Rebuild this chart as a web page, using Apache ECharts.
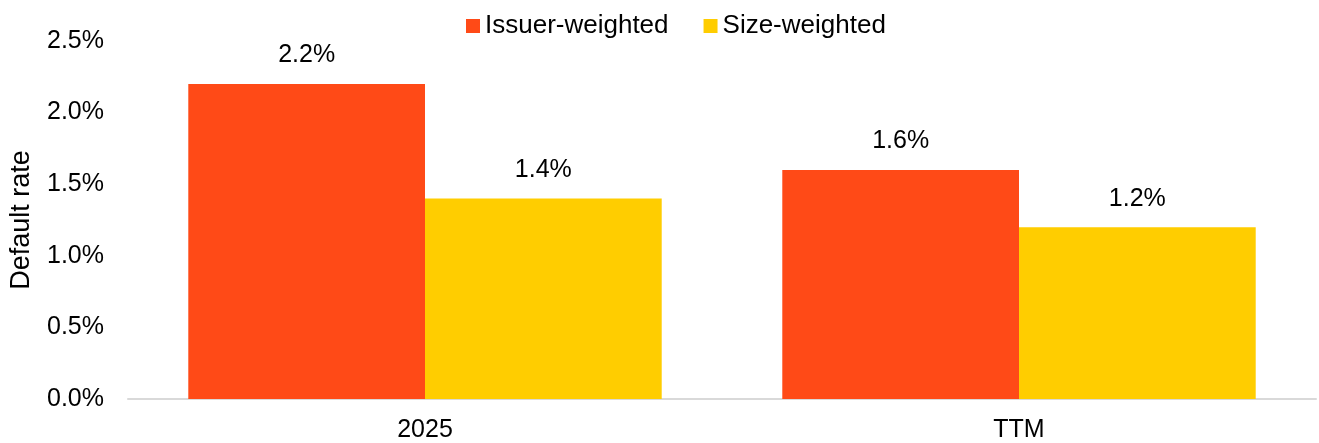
<!DOCTYPE html>
<html><head><meta charset="utf-8">
<script src="https://cdn.jsdelivr.net/npm/echarts@6/dist/echarts.min.js"></script>
<style>html,body{margin:0;padding:0;background:#fff}#c{width:1319px;height:443px}</style>
</head><body><div id="c"></div>
<script>
var categories = ['2025', 'TTM'];
var issuerWeighted = [2.2, 1.6];
var sizeWeighted = [1.4, 1.2];
var seriesNames = ['Issuer-weighted', 'Size-weighted'];
var yTicks = [0, 0.5, 1.0, 1.5, 2.0, 2.5];

var font = 'Liberation Sans, Arial, sans-serif';
var fs = 25;
var chart = echarts.init(document.getElementById('c'));
chart.setOption({
  animation: false,
  textStyle: { fontFamily: font },
  legend: {
    top: 8, left: 461, itemWidth: 14, itemHeight: 14, itemGap: 35,
    icon: 'rect',
    textStyle: { fontSize: 26, color: '#000', fontFamily: font },
    data: seriesNames
  },
  grid: { left: 127, right: 3, top: 41, bottom: 43, containLabel: false },
  xAxis: {
    type: 'category', data: categories,
    axisLine: { lineStyle: { color: '#d9d9d9', width: 2 } },
    axisTick: { show: false },
    axisLabel: { fontSize: fs, color: '#000', margin: 19, fontFamily: font }
  },
  yAxis: {
    type: 'value', min: yTicks[0], max: yTicks[yTicks.length - 1], interval: 0.5,
    name: 'Default rate', nameLocation: 'middle', nameGap: 93,
    nameTextStyle: { fontSize: 27, color: '#000', fontFamily: font },
    axisLine: { show: false }, axisTick: { show: false },
    splitLine: { show: false },
    axisLabel: { fontSize: fs, color: '#000', margin: 24, fontFamily: font,
      formatter: function (v) { return v.toFixed(1) + '%'; } }
  },
  series: [
    { name: seriesNames[0], type: 'bar', data: issuerWeighted, barGap: '0%', barCategoryGap: '20.3%',
      itemStyle: { color: '#FF4A17' },
      label: { show: true, position: 'top', distance: 16, fontSize: fs, color: '#000', fontFamily: font,
        formatter: function (p) { return p.value.toFixed(1) + '%'; } } },
    { name: seriesNames[1], type: 'bar', data: sizeWeighted, barGap: '0%', barCategoryGap: '20.3%',
      itemStyle: { color: '#FFCD00' },
      label: { show: true, position: 'top', distance: 16, fontSize: fs, color: '#000', fontFamily: font,
        formatter: function (p) { return p.value.toFixed(1) + '%'; } } }
  ]
});
</script></body></html>
